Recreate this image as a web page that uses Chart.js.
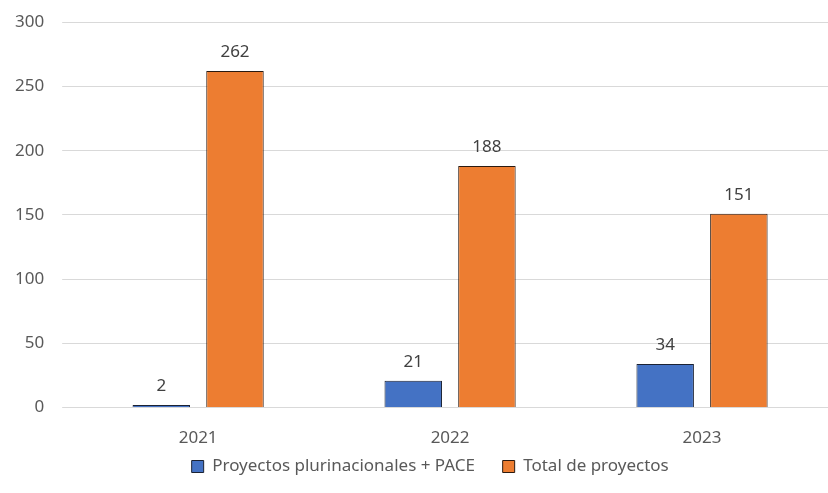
<!DOCTYPE html>
<html>
<head>
<meta charset="utf-8">
<script src="https://cdn.jsdelivr.net/npm/chart.js@4.4.1/dist/chart.umd.min.js"></script>
<style>
    html, body { margin: 0; padding: 0; background: #fff; }
    #caja { width: 828px; height: 493px; }
</style>
</head>
<body>
<div id="caja"><canvas id="grafica-proyectos"></canvas></div>
<script>
/* datos */
let anios = ['2021', '2022', '2023'];
let plurinacionales = [2, 21, 34];
let totalProyectos = [262, 188, 151];
let marcasY = [0, 50, 100, 150, 200, 250, 300];

let fuente = '"Noto Sans", sans-serif';

/* etiquetas encima de cada barra */
let etiquetasBarras = {
    id: 'etiquetasBarras',
    afterDatasetsDraw(chart) {
        let ctx = chart.ctx;
        ctx.save();
        ctx.font = '17px ' + fuente;
        ctx.fillStyle = '#404040';
        ctx.textAlign = 'center';
        ctx.textBaseline = 'bottom';
        chart.data.datasets.forEach((ds, i) => {
            chart.getDatasetMeta(i).data.forEach((barra, j) => {
                ctx.fillText(ds.data[j], barra.x, barra.y - 10);
            });
        });
        ctx.restore();
    }
};

let datosProyectos = {
    labels: anios,
    datasets: [
        {
            label: 'Proyectos plurinacionales + PACE',
            data: plurinacionales,
            backgroundColor: '#4472C4',
            borderColor: '#1b2233',
            borderWidth: 1,
            borderSkipped: 'bottom',
            categoryPercentage: 0.585,
            barPercentage: 0.78,
        },
        {
            label: 'Total de proyectos',
            data: totalProyectos,
            backgroundColor: '#ED7D31',
            borderColor: '#2b1a10',
            borderWidth: 1,
            borderSkipped: 'bottom',
            categoryPercentage: 0.585,
            barPercentage: 0.78,
        },
    ]
};

let opcionesProyectos = {
    responsive: true,
    maintainAspectRatio: false,
    animation: false,
    layout: {
        padding: { left: -3, right: 0, top: 0, bottom: 8 }
    },
    scales: {
        x: {
            grid: { display: false, drawTicks: false },
            border: { display: false },
            ticks: {
                color: '#595959',
                font: { family: fuente, size: 17 },
                padding: 20
            },
            // quitar el padding de debajo de las etiquetas
            afterFit: (eje) => { eje.height -= 20; }
        },
        y: {
            min: 0,
            max: 300,
            afterBuildTicks: (eje) => { eje.ticks = marcasY.map(v => ({ value: v })); },
            grid: {
                color: '#d9d9d9',
                tickLength: 10,
                tickColor: '#d9d9d9'
            },
            border: { display: false },
            ticks: {
                color: '#595959',
                font: { family: fuente, size: 17, lineHeight: 0.5 },
                padding: 18
            }
        }
    },
    plugins: {
        legend: {
            position: 'bottom',
            fullSize: false,
            labels: {
                color: '#595959',
                font: { family: fuente, size: 17 },
                boxWidth: 12,
                boxHeight: 12,
                padding: 10,
                // separacion entre entradas y leyenda un poco a la izquierda
                generateLabels: (chart) => {
                    let items = Chart.defaults.plugins.legend.labels.generateLabels(chart);
                    items[0].text += '    ';
                    items[1].text += '         ';
                    return items;
                }
            }
        },
        tooltip: { enabled: false }
    }
};

let ctxProyectos = document.getElementById('grafica-proyectos');

let miGrafica = new Chart(ctxProyectos, {
    type: 'bar',
    data: datosProyectos,
    options: opcionesProyectos,
    plugins: [etiquetasBarras]
});
</script>
</body>
</html>
